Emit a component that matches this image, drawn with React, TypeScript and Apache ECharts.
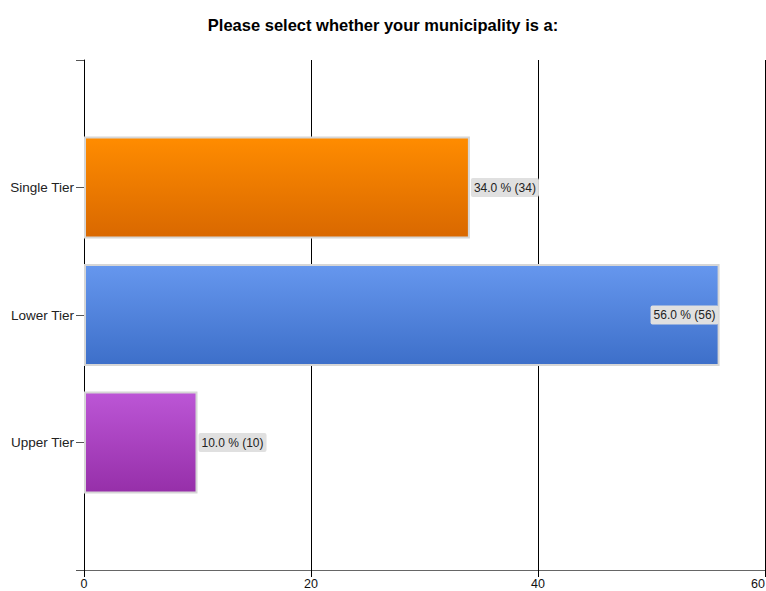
import React, { useEffect, useRef } from "react";
import * as echarts from "echarts";

const titleText = "Please select whether your municipality is a:";
// bottom-to-top; empty slots pad the axis like the reference
const categories = ["", "Upper Tier", "Lower Tier", "Single Tier", ""];
const counts: (number | null)[] = [null, 10, 56, 34, null];
const topColors = ["", "#BC56D6", "#6697EE", "#FF8C00", ""];
const bottomColors = ["", "#962FA9", "#3D6FC9", "#D96800", ""];
const insideLabel = [false, false, true, false, false];
const xTicks = { min: 0, max: 60, interval: 20 };

const FONT = "Liberation Sans, Arial, sans-serif";

export default function App() {
  const ref = useRef<HTMLDivElement>(null);
  useEffect(() => {
    if (!ref.current) return;
    const chart = echarts.init(ref.current, undefined, { renderer: "svg" });
    const total = counts.reduce((s: number, v) => s + (v ?? 0), 0);
    const data = counts.map((v, i) =>
      v == null
        ? "-"
        : {
            value: v,
            itemStyle: {
              color: new echarts.graphic.LinearGradient(0, 0, 0, 1, [
                { offset: 0, color: topColors[i] },
                { offset: 1, color: bottomColors[i] },
              ]),
            },
            label: insideLabel[i]
              ? { position: "insideRight", distance: 1 }
              : { position: "right", distance: 1 },
          }
    );
    chart.setOption({
      animation: false,
      title: {
        text: titleText,
        left: "center",
        top: 11,
        textStyle: {
          fontFamily: FONT,
          fontSize: 16.5,
          fontWeight: "bold",
          color: "#000",
        },
      },
      grid: {
        left: 84,
        right: 1,
        top: 60,
        bottom: 21,
        containLabel: false,
        outerBoundsMode: "none",
      },
      xAxis: {
        type: "value",
        min: xTicks.min,
        max: xTicks.max,
        interval: xTicks.interval,
        axisLine: { show: true, lineStyle: { color: "#666", width: 1 } },
        axisTick: { show: true, length: 7, lineStyle: { color: "#000" } },
        splitLine: { show: true, lineStyle: { color: "#000", width: 1 } },
        axisLabel: {
          color: "#111",
          fontSize: 12.5,
          margin: 7,
          fontFamily: FONT,
          hideOverlap: false,
          alignMaxLabel: "right",
        },
      },
      yAxis: {
        type: "category",
        data: categories,
        boundaryGap: false,
        axisLine: { show: true, lineStyle: { color: "#000", width: 1 } },
        axisTick: { show: true, length: 8, lineStyle: { color: "#555" } },
        splitLine: { show: false },
        axisLabel: {
          color: "#222",
          fontSize: 13.5,
          margin: 10,
          fontFamily: FONT,
        },
      },
      series: [
        {
          type: "bar",
          data,
          barWidth: 102,
          itemStyle: { borderColor: "#d6d6d6", borderWidth: 2 },
          label: {
            show: true,
            formatter: (p: any) =>
              `${((p.value / total) * 100).toFixed(1)} % (${p.value})`,
            backgroundColor: "#e0e0e0",
            color: "#222",
            fontSize: 12,
            padding: [4, 3, 3, 3],
            borderRadius: 2,
            fontFamily: FONT,
          },
        },
      ],
    });
    return () => chart.dispose();
  }, []);
  return <div ref={ref} style={{ width: 766, height: 591, position: "absolute", left: 0, top: 0 }} />;
}
